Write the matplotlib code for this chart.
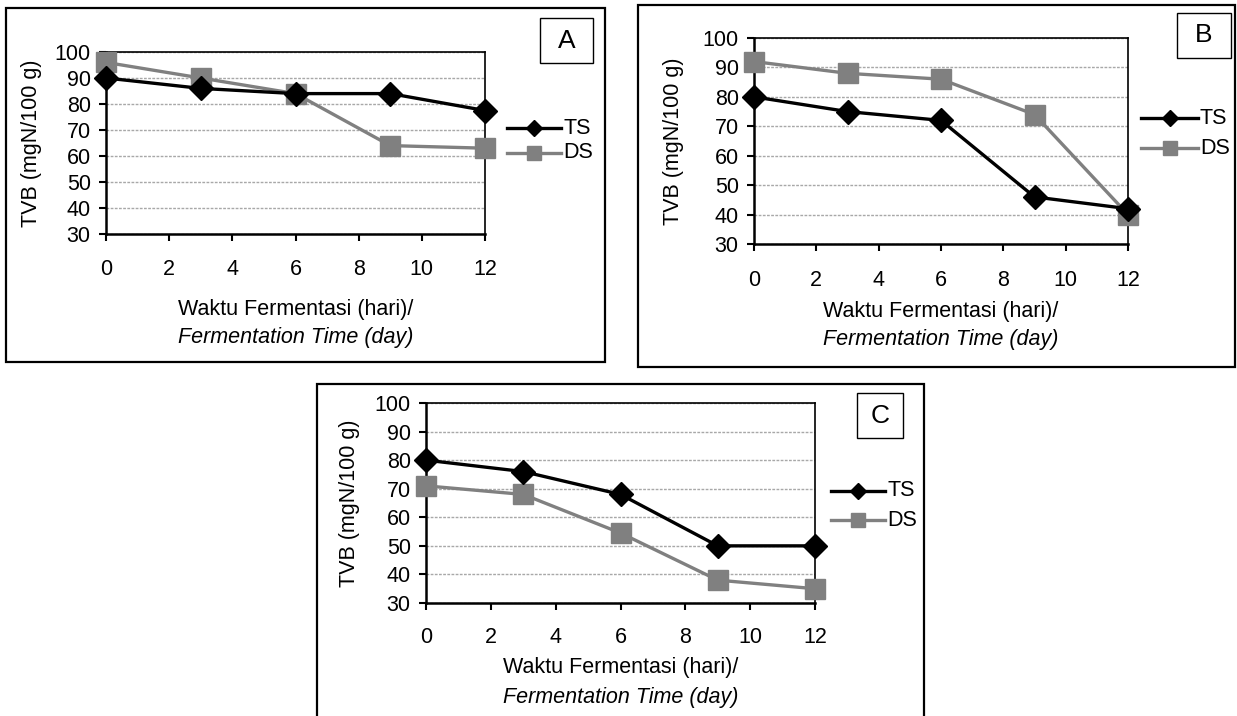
#!/usr/bin/env python3
import matplotlib.pyplot as plt
from matplotlib.patches import Rectangle
from matplotlib.lines import Line2D

# fermentation day
days = [0, 3, 6, 9, 12]

# TVB (mgN/100 g) per panel
ts_a = [90, 86, 84, 84, 77.5]
ds_a = [96, 90, 84, 64, 63]
ts_b = [80, 75, 72, 46, 42]
ds_b = [92, 88, 86, 74, 40]
ts_c = [80, 76, 68, 50, 50]
ds_c = [71, 68, 54.5, 38, 35]

panel_names = ["A", "B", "C"]
series_names = ["TS", "DS"]
xticks = [0, 2, 4, 6, 8, 10, 12]
yticks = [30, 40, 50, 60, 70, 80, 90, 100]
ylabel = "TVB (mgN/100 g)"
xlabel1 = "Waktu Fermentasi (hari)/"
xlabel2 = "Fermentation Time (day)"

W, H = 1237, 716
plt.rcParams["font.family"] = ["Liberation Sans", "DejaVu Sans"]
fig = plt.figure(figsize=(W / 100, H / 100), dpi=100)
FS = 15.5


def fx(px):
  return px / W


def fy(py):
  return 1 - py / H


def frame(x0, y0, x1, y1, lw=1.6):
  fig.add_artist(Rectangle((fx(x0), fy(y1)), fx(x1 - x0), (y1 - y0) / H,
                           fill=False, lw=lw, ec="black", transform=fig.transFigure))


def panel(box, ts, ds, tag, tagbox, leg, ylab_x, xlab_y, tickpad):
  x0, y0, x1, y1 = box
  ax = fig.add_axes([fx(x0), fy(y1), fx(x1 - x0), (y1 - y0) / H])
  ax.plot(days, ts, color="black", lw=2.4, marker="D", ms=12, zorder=4, clip_on=False)
  ax.plot(days, ds, color="#808080", lw=2.4, marker="s", ms=15, zorder=3, clip_on=False)
  ax.set_xlim(0, 12)
  ax.set_ylim(30, 100)
  ax.set_xticks(xticks)
  ax.set_yticks(yticks)
  ax.yaxis.grid(True, linestyle=(0, (2, 1)), color="#a8a8a8", lw=1)
  ax.set_axisbelow(True)
  for s in ax.spines.values():
    s.set_color("black")
    s.set_linewidth(1.2)
  ax.spines["left"].set_linewidth(1.8)
  ax.spines["bottom"].set_linewidth(1.8)
  ax.tick_params(axis="x", direction="out", length=5, width=1.5, pad=tickpad, labelsize=FS)
  ax.tick_params(axis="y", direction="out", length=5, width=1.5, pad=6, labelsize=FS)

  # y label, x labels
  cx = (x0 + x1) / 2
  fig.text(fx(ylab_x), fy((y0 + y1) / 2), ylabel, rotation=90, ha="center", va="center", fontsize=FS)
  fig.text(fx(cx), fy(xlab_y[0]), xlabel1, ha="center", va="center", fontsize=FS)
  fig.text(fx(cx), fy(xlab_y[1]), xlabel2, ha="center", va="center", fontsize=FS, style="italic")

  # panel tag box
  bx0, by0, bx1, by1 = tagbox
  frame(bx0, by0, bx1, by1, lw=1.0)
  fig.text(fx((bx0 + bx1) / 2), fy((by0 + by1) / 2), tag, ha="center", va="center", fontsize=19)

  # legend
  lx0, lx1, ly_ts, ly_ds = leg
  for name, ly, col, mk, ms in [(series_names[0], ly_ts, "black", "D", 8),
                                (series_names[1], ly_ds, "#808080", "s", 10)]:
    fig.add_artist(Line2D([fx(lx0), fx(lx1)], [fy(ly), fy(ly)], color=col, lw=2.4,
                          transform=fig.transFigure))
    fig.add_artist(Line2D([fx((lx0 + lx1) / 2)], [fy(ly)], color=col, marker=mk, ms=ms,
                          transform=fig.transFigure))
    fig.text(fx(lx1 + 2), fy(ly), name, ha="left", va="center", fontsize=FS)
  return ax


# outer frames
frame(6, 7.5, 605, 362)
frame(638, 5, 1235, 367)
frame(317, 384, 924, 740)

panel((106, 52, 485, 234), ts_a, ds_a, panel_names[0], (540, 18, 593, 63),
      (507, 561, 128, 153), 32, (309, 337), 13)
panel((754, 38, 1128, 244), ts_b, ds_b, panel_names[1], (1177, 13, 1231, 58),
      (1141, 1198, 118, 148), 673, (312, 340), 14)
panel((426, 403, 815, 603), ts_c, ds_c, panel_names[2], (857, 393, 903, 438),
      (831, 885, 491, 520), 350, (668, 697), 12)

plt.savefig("out.png", dpi=100)
